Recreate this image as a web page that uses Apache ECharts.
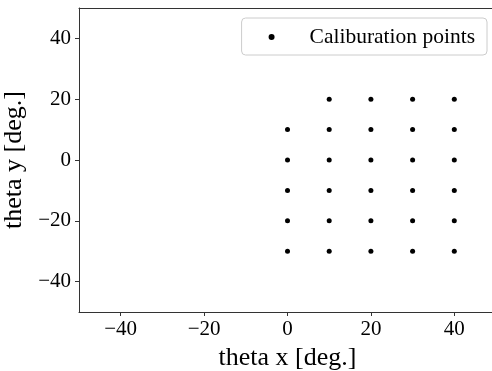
<!DOCTYPE html>
<html>
<head>
<meta charset="utf-8">
<script src="https://cdn.jsdelivr.net/npm/echarts@6/dist/echarts.min.js"></script>
<style>
  html, body { margin: 0; padding: 0; background: #fff; }
  #chart { width: 492px; height: 371px; }
</style>
</head>
<body>
<div id="chart"></div>
<script>
// calibration grid
const xCols = [0, 10, 20, 30, 40];
const yByCol = [
  [10, 0, -10, -20, -30],
  [20, 10, 0, -10, -20, -30],
  [20, 10, 0, -10, -20, -30],
  [20, 10, 0, -10, -20, -30],
  [20, 10, 0, -10, -20, -30]
];
const xTicks = [-40, -20, 0, 20, 40];
const yTicks = [-40, -20, 0, 20, 40];

const points = [];
xCols.forEach((x, i) => {
  yByCol[i].forEach(y => points.push([x, y]));
});

const font = 'Liberation Serif';
const minus = v => String(v).replace('-', '\u2212');

const chart = echarts.init(document.getElementById('chart'));
chart.setOption({
  animation: false,
  textStyle: { fontFamily: font },
  grid: {
    left: 79, right: -4, top: 8, bottom: 59,
    outerBoundsMode: 'none'
  },
  legend: {
    data: ['Caliburation points'],
    right: 5, top: 18,
    padding: [8, 12, 7, 27],
    borderColor: '#ccc', borderWidth: 1, borderRadius: 4,
    itemWidth: 6, itemHeight: 6,
    itemGap: 0,
    textStyle: { fontFamily: font, fontSize: 21.5, color: '#000', padding: [0, 0, 0, 30] }
  },
  xAxis: [{
    type: 'value', min: -50, max: 50, interval: 20,
    name: 'theta x [deg.]', nameLocation: 'middle', nameGap: 33,
    nameTextStyle: { fontFamily: font, fontSize: 26, color: '#000' },
    axisLine: { onZero: false, lineStyle: { color: '#333' } },
    axisTick: { show: true, length: 4, lineStyle: { color: '#333' },
      customValues: xTicks },
    axisLabel: { fontFamily: font, fontSize: 21, color: '#000', margin: 7,
      customValues: xTicks, formatter: minus },
    splitLine: { show: false }
  }, {
    // top spine only
    type: 'value', min: -50, max: 50, position: 'top',
    axisLine: { show: true, onZero: false, lineStyle: { color: '#333' } },
    axisTick: { show: false }, axisLabel: { show: false },
    splitLine: { show: false }
  }],
  yAxis: {
    type: 'value', min: -50, max: 50, interval: 20,
    name: 'theta y [deg.]', nameLocation: 'middle', nameGap: 37,
    nameTextStyle: { fontFamily: font, fontSize: 26, color: '#000' },
    axisLine: { onZero: false, lineStyle: { color: '#333' } },
    axisTick: { show: true, length: 4, lineStyle: { color: '#333' },
      customValues: yTicks },
    axisLabel: { fontFamily: font, fontSize: 21, color: '#000', margin: 8,
      customValues: yTicks, formatter: minus },
    splitLine: { show: false }
  },
  series: [{
    name: 'Caliburation points',
    type: 'scatter',
    data: points,
    symbol: 'circle',
    symbolSize: 5,
    itemStyle: { color: '#000', opacity: 1 }
  }]
});
</script>
</body>
</html>
